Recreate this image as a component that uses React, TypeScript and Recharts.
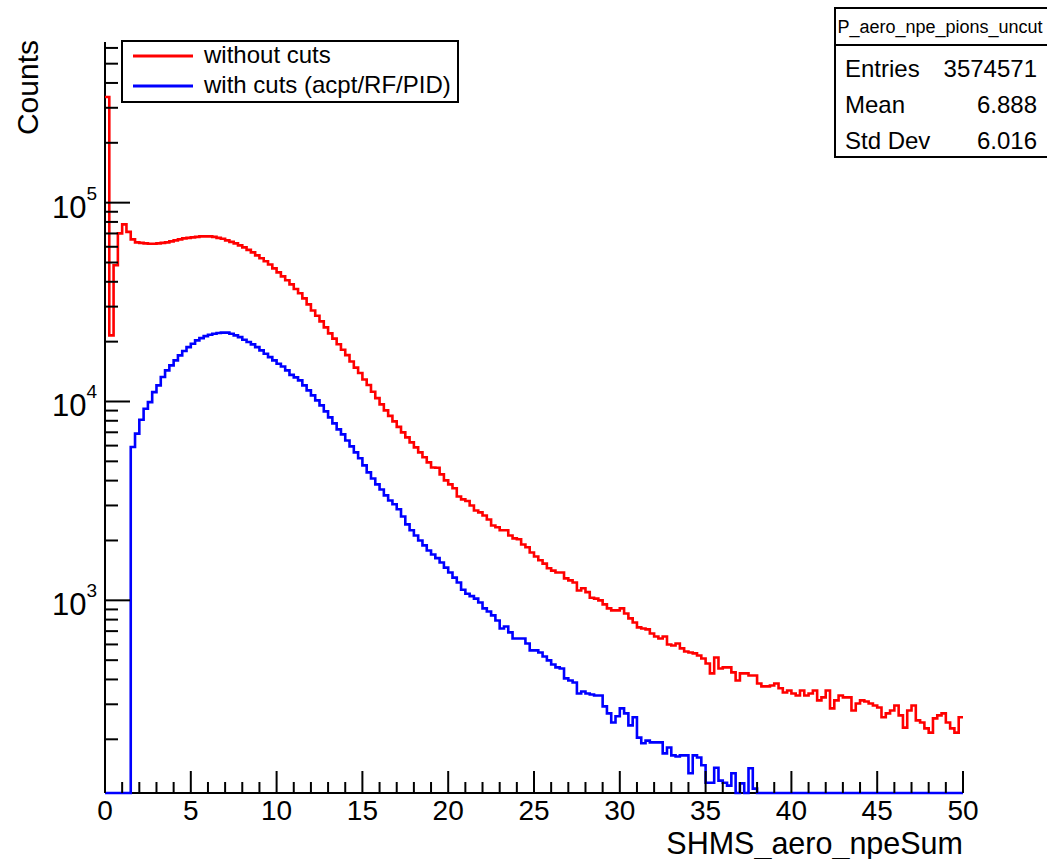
import { Legend, Line, LineChart, XAxis, YAxis } from "recharts";

// bin contents, 200 bins of width 0.25 from 0 to 50
const BIN_WIDTH = 0.25;
const RED_COUNTS = [
  340000, 21500, 48400, 70100, 77800, 71300, 65400, 63100, 62800, 62400,
  62100, 62100, 62400, 62800, 63100, 63900, 64600, 65400, 66100, 66500,
  66900, 67300, 67700, 67700, 67700, 67300, 66500, 65800, 64600, 63500,
  62400, 61000, 59600, 57900, 56200, 54300, 52500, 50700, 48900, 46700,
  44600, 42600, 40700, 38800, 36800, 35000, 33000, 30800, 28700, 27000,
  25300, 23600, 22000, 20700, 19400, 18200, 17100, 15900, 14800, 13900,
  12900, 12100, 11200, 10400, 9670, 9020, 8470, 7940, 7450, 6990,
  6600, 6230, 5880, 5550, 5240, 4940, 4660, 4640, 4300, 4010,
  3830, 3660, 3330, 3220, 3160, 3000, 2830, 2770, 2670, 2550,
  2380, 2330, 2250, 2250, 2120, 2050, 2030, 1910, 1850, 1740,
  1660, 1590, 1530, 1450, 1410, 1380, 1380, 1290, 1260, 1230,
  1120, 1150, 1100, 1030, 1020, 999, 954, 911, 890, 890,
  911, 859, 811, 774, 731, 722, 714, 681, 658, 643,
  658, 600, 593, 607, 573, 553, 547, 541, 528, 510,
  481, 429, 516, 454, 460, 460, 434, 395, 429, 429,
  419, 419, 382, 369, 369, 373, 382, 361, 344, 352,
  340, 332, 352, 332, 340, 352, 314, 325, 352, 286,
  314, 332, 325, 325, 279, 303, 314, 310, 303, 296,
  289, 258, 270, 279, 296, 264, 229, 279, 296, 249,
  243, 227, 216, 255, 264, 270, 243, 227, 216, 258,
];
const BLUE_COUNTS = [
  0, 0, 0, 0, 0, 0, 5900, 6890, 8100, 9200,
  9930, 11150, 12050, 13270, 14340, 15190, 16100, 17060, 17930, 18780,
  19530, 20290, 20840, 21330, 21680, 21930, 22090, 22190, 22190, 21930,
  21500, 21080, 20460, 19900, 19380, 18780, 18070, 17390, 16720, 16100,
  15490, 15000, 14340, 13610, 13220, 12770, 12050, 11370, 10730, 10130,
  9560, 8920, 8320, 7760, 7240, 6830, 6370, 5950, 5550, 5180,
  4770, 4400, 4100, 3830, 3610, 3370, 3180, 3040, 2870, 2640,
  2410, 2250, 2120, 2000, 1890, 1780, 1700, 1630, 1550, 1460,
  1380, 1300, 1230, 1130, 1080, 1050, 1020, 976, 911, 879,
  840, 792, 722, 739, 690, 643, 643, 643, 607, 560,
  560, 547, 522, 499, 476, 460, 454, 405, 395, 386,
  340, 348, 340, 336, 332, 332, 293, 270, 243, 261,
  286, 270, 235, 258, 204, 191, 197, 193, 193, 193,
  170, 182, 166, 164, 166, 166, 135, 166, 162, 148,
  121, 121, 144, 124, 121, 117, 135, 0, 120, 0,
  143, 113, 0, 0, 0, 0, 0, 0, 0, 0,
  0, 0, 0, 0, 0, 0, 0, 0, 0, 0,
  0, 0, 0, 0, 0, 0, 0, 0, 0, 0,
  0, 0, 0, 0, 0, 0, 0, 0, 0, 0,
  0, 0, 0, 0, 0, 0, 0, 0, 0, 0,
];

const X_TICKS = [
  0, 1, 2, 3, 4, 5, 6, 7, 8, 9, 10, 11, 12, 13, 14, 15, 16, 17, 18, 19, 20,
  21, 22, 23, 24, 25, 26, 27, 28, 29, 30, 31, 32, 33, 34, 35, 36, 37, 38, 39,
  40, 41, 42, 43, 44, 45, 46, 47, 48, 49, 50,
];
const Y_TICKS = [
  200, 300, 400, 500, 600, 700, 800, 900,
  1000, 2000, 3000, 4000, 5000, 6000, 7000, 8000, 9000,
  10000, 20000, 30000, 40000, 50000, 60000, 70000, 80000, 90000,
  100000, 200000, 300000, 400000, 500000, 600000,
];
const Y_MIN = 107.4;
const Y_MAX = 642700;

const SERIES = [
  { key: "red", name: "without cuts", color: "#ff0000" },
  { key: "blue", name: "with cuts (acpt/RF/PID)", color: "#0000ff" },
];

const STATS_TITLE = "P_aero_npe_pions_uncut";
const STATS = [
  { label: "Entries", value: "3574571" },
  { label: "Mean", value: "6.888" },
  { label: "Std Dev", value: "6.016" },
];

const FONT = '"Liberation Sans", Arial, Helvetica, sans-serif';

// empty bins sit on the bottom of the frame, like ROOT draws them on a log axis
const rows = RED_COUNTS.map((r, i) => ({
  x: i * BIN_WIDTH,
  red: r,
  blue: Math.max(BLUE_COUNTS[i], Y_MIN),
}));
rows.push({
  x: RED_COUNTS.length * BIN_WIDTH,
  red: RED_COUNTS[RED_COUNTS.length - 1],
  blue: Math.max(BLUE_COUNTS[BLUE_COUNTS.length - 1], Y_MIN),
});

function XTick(props: any) {
  const { x, y, payload } = props;
  const v = payload.value;
  const major = v % 5 === 0;
  return (
    <g>
      <line x1={x} x2={x} y1={y} y2={y - (major ? 22 : 11)} stroke="#000" strokeWidth={2} />
      {major && (
        <text x={x} y={y + 27} textAnchor="middle" fontSize={28} fontFamily={FONT} fill="#000">
          {v}
        </text>
      )}
    </g>
  );
}

function YTick(props: any) {
  const { x, y, payload } = props;
  const exp = Math.log10(payload.value);
  const major = Math.abs(exp - Math.round(exp)) < 1e-6;
  return (
    <g>
      <line x1={x} x2={x + (major ? 25 : 13)} y1={y} y2={y} stroke="#000" strokeWidth={2} />
      {major && (
        <text x={x - 8} y={y + 15} textAnchor="end" fontSize={31} fontFamily={FONT} fill="#000">
          10
          <tspan dy={-18} fontSize={19}>
            {Math.round(exp)}
          </tspan>
        </text>
      )}
    </g>
  );
}

function LegendBox() {
  return (
    <svg width={339} height={64} style={{ display: "block" }}>
      <rect x={1} y={1} width={336} height={61} fill="#fff" stroke="#000" strokeWidth={2} />
      {SERIES.map((s, i) => (
        <g key={s.key}>
          <line x1={12} x2={72} y1={16 + i * 30} y2={16 + i * 30} stroke={s.color} strokeWidth={3} />
          <text x={83} y={23 + i * 30} fontSize={24} fontFamily={FONT} fill="#000">
            {s.name}
          </text>
        </g>
      ))}
    </svg>
  );
}

export default function App() {
  return (
    <div
      style={{
        position: "absolute",
        left: 0,
        top: 0,
        width: 1047,
        height: 859,
        overflow: "hidden",
        background: "#fff",
        fontFamily: FONT,
      }}
    >
      <LineChart width={1047} height={859} data={rows} margin={{ top: 42, right: 84, bottom: 0, left: 0 }}>
        <XAxis
          dataKey="x"
          type="number"
          domain={[0, 50]}
          ticks={X_TICKS}
          interval={0}
          height={66}
          tickSize={0}
          tickMargin={0}
          tickLine={false}
          tick={<XTick />}
          axisLine={{ stroke: "#000", strokeWidth: 2 }}
        />
        <XAxis
          xAxisId="top"
          orientation="top"
          type="number"
          domain={[0, 50]}
          height={0}
          tick={false}
          tickLine={false}
          axisLine={{ stroke: "#000", strokeWidth: 2 }}
        />
        <YAxis
          scale="log"
          type="number"
          domain={[Y_MIN, Y_MAX]}
          ticks={Y_TICKS}
          interval={0}
          width={105}
          tickSize={0}
          tickMargin={0}
          tickLine={false}
          tick={<YTick />}
          axisLine={{ stroke: "#000", strokeWidth: 2 }}
        />
        <YAxis
          yAxisId="right"
          orientation="right"
          type="number"
          domain={[0, 1]}
          width={0}
          tick={false}
          tickLine={false}
          axisLine={{ stroke: "#000", strokeWidth: 2 }}
        />
        <Legend
          layout="vertical"
          align="center"
          verticalAlign="middle"
          wrapperStyle={{ top: 40, left: 121, width: 339 }}
          content={() => <LegendBox />}
        />
        {SERIES.map((s) => (
          <Line
            key={s.key}
            dataKey={s.key}
            name={s.name}
            type="stepAfter"
            stroke={s.color}
            strokeWidth={2.6}
            dot={false}
            activeDot={false}
            zIndex={600}
            isAnimationActive={false}
          />
        ))}
      </LineChart>

      <svg
        width={1047}
        height={859}
        style={{ position: "absolute", left: 0, top: 0, pointerEvents: "none" }}
      >
        <text
          transform="translate(38,40) rotate(-90)"
          textAnchor="end"
          fontSize={30}
          fontFamily={FONT}
          fill="#000"
        >
          Counts
        </text>
        <text x={963} y={854} textAnchor="end" fontSize={30.5} fontFamily={FONT} fill="#000">
          SHMS_aero_npeSum
        </text>

        <rect x={835} y={8} width={220} height={37} fill="#fff" stroke="#000" strokeWidth={2} />
        <rect x={835} y={45} width={220} height={112} fill="#fff" stroke="#000" strokeWidth={2} />
        <text x={940} y={33} textAnchor="middle" fontSize={18} fontFamily={FONT} fill="#000">
          {STATS_TITLE}
        </text>
        {STATS.map((s, i) => (
          <g key={s.label}>
            <text x={845} y={77 + i * 36} fontSize={24} fontFamily={FONT} fill="#000">
              {s.label}
            </text>
            <text x={1037} y={77 + i * 36} textAnchor="end" fontSize={24} fontFamily={FONT} fill="#000">
              {s.value}
            </text>
          </g>
        ))}
      </svg>
    </div>
  );
}
